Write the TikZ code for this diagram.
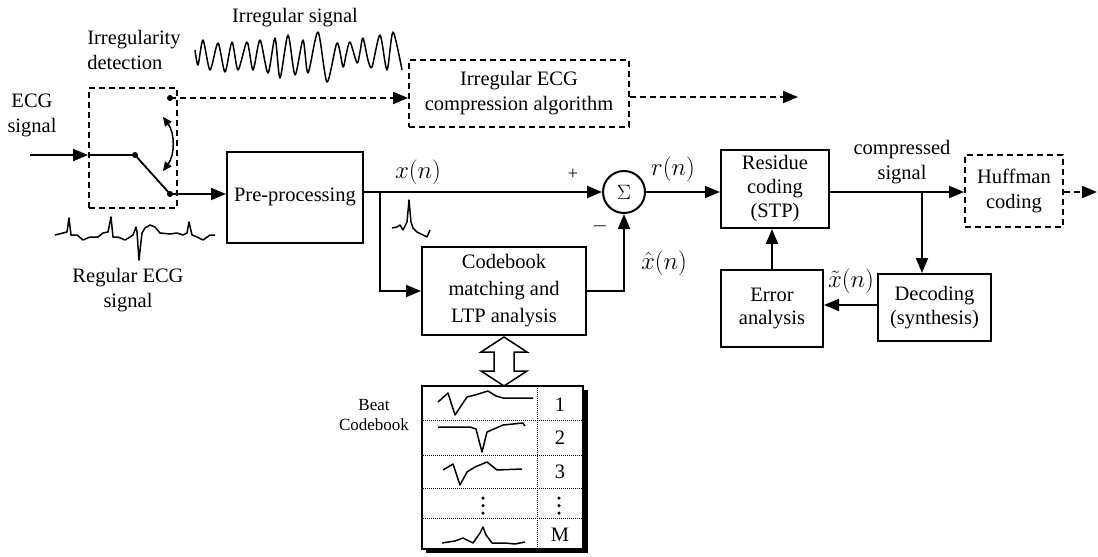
\documentclass[tikz,border=0pt]{standalone}
\usepackage{fontspec}
\setmainfont{Liberation Serif}
\usetikzlibrary{arrows.meta}
\begin{document}
\begin{tikzpicture}[x=1pt,y=-1pt,
  every node/.style={font=\fontsize{20.5}{25}\selectfont, inner sep=0pt},
  blk/.style={draw, line width=2pt, align=center},
  dblk/.style={draw, line width=1.8pt, dash pattern=on 6pt off 4pt, align=center},
  ln/.style={line width=1.8pt},
  arr/.style={ln, -{Triangle[length=15pt,width=12pt]}},
  darr/.style={arr, dash pattern=on 6pt off 4pt},
  wave/.style={line width=1.5pt, line join=round},
  lbl/.style={align=center},
  mlbl/.style={font=\fontsize{23}{25}\selectfont},
  swdot/.style={circle, fill, inner sep=0pt, minimum size=6pt},
  vdot/.style={circle, fill, inner sep=0pt, minimum size=3.5pt},
  rowl/.style={line width=1pt, densely dotted},
]
\useasboundingbox (0,0) rectangle (1098,557);

% ---------- blocks ----------
\node[dblk, minimum width=88pt, minimum height=120pt] (det) at (133,148) {};
\node[dblk, minimum width=220pt, minimum height=67pt] (irr) at (519,93.5) {Irregular ECG\\compression algorithm};
\node[blk, minimum width=136pt, minimum height=91pt] (pre) at (295,197) {Pre-processing};
\node[circle, draw, line width=2pt, minimum size=42pt] (sig) at (624,192) {$\Sigma$};
\node[blk, minimum width=164pt, minimum height=88pt, font=\fontsize{20.5}{27}\selectfont] (cb) at (504,291) {Codebook\\matching and\\LTP analysis};
\node[blk, minimum width=108pt, minimum height=78pt, font=\fontsize{20.5}{24}\selectfont] (res) at (775,189) {Residue\\coding\\(STP)};
\node[dblk, minimum width=98pt, minimum height=72pt] (huf) at (1014,191) {Huffman\\coding};
\node[blk, minimum width=113pt, minimum height=67pt, font=\fontsize{20.5}{24}\selectfont] (dec) at (934.5,307.5) {Decoding\\(synthesis)};
\node[blk, minimum width=102pt, minimum height=77pt, font=\fontsize{20.5}{23}\selectfont] (err) at (772,308.5) {Error\\analysis};

% ---------- labels ----------
\node (tIrr) at (295,18) {Irregular signal};
\node[align=left] (tDet) at (134,50) {Irregularity\\detection};
\node[lbl] (tECG) at (32,115) {ECG\\signal};
\node[lbl] (tReg) at (128,290) {Regular ECG\\signal};
\node[mlbl] (tx) at (418,172) {$x\bigl(n\bigr)$};
\node (tplus) at (573,174) {\fontsize{18}{18}\selectfont +};
\node (tminus) at (600,226) {$-$};
\node[mlbl] (txh) at (664,263) {$\hat{x}\bigl(n\bigr)$};
\node[mlbl] (tr) at (673,169) {$r\bigl(n\bigr)$};
\node[mlbl] (txt) at (851,281) {$\tilde{x}\bigl(n\bigr)$};
\node[lbl] (tcomp) at (902,162) {compressed\\signal};
\node[lbl, font=\fontsize{17}{20}\selectfont] (tbeat) at (374,415) {Beat\\Codebook};

% ---------- switch / irregular path ----------
\coordinate (in) at (30,155);
\coordinate (piv) at (135,155);
\coordinate (c2) at (170,194);
\coordinate (c1) at (170,98);
\draw[arr] (in) -- (det.west |- in);
\draw[ln] (det.west |- in) -- (piv) -- (c2);
\draw[arr] (c2) -- (pre.west |- c2);
\draw[darr] (c1) -- (irr.west |- c1);
\node[swdot] (dpiv) at (piv) {};
\node[swdot] (dc2) at (c2) {};
\node[swdot] (dc1) at (c1) {};
\draw[line width=1.5pt, {Triangle[length=9pt,width=8pt]}-{Triangle[length=9pt,width=8pt]}]
  (163,117) .. controls (175,133) and (175,155) .. (163,171);
\coordinate (irrout) at (798,97);
\draw[darr] (irr.east |- irrout) -- (irrout);

% ---------- main path ----------
\coordinate (br) at (380,192);
\draw[arr] (pre.east |- br) -- (sig.west);
\draw[arr] (br) |- (cb.west);
\draw[arr] (cb.east) -| (sig.south);
\draw[arr] (sig.east) -- (res.west |- sig.east);
\coordinate (j) at (922,192);
\draw[arr] (res.east |- j) -- (huf.west |- j);
\draw[arr] (j) -- (j |- dec.north);
\coordinate (hout) at (1097,192);
\draw[darr] (huf.east |- hout) -- (hout);
\draw[arr] (dec.west |- 0,305) -- (err.east |- 0,305);
\draw[arr] (err.north) -- (err.north |- res.south);

% ---------- waveforms ----------
\draw[wave] plot[smooth, tension=0.45] coordinates {(195,50) (198,65) (203,40) (210,70) (218,43) (225,72) (232,42) (238,70)
  (247,42) (253,70) (260,40) (268,73) (275,38) (280,78) (288,35) (295,75)
  (303,40) (308,73) (318,32) (327,82) (337,43) (343,67) (346,55) (350,42)
  (357,63) (360,52) (363,38) (368,60) (372,67) (380,35) (387,70) (393,32) (402,70)};

\draw[wave] (55,235) -- (63,233) -- (67,232) -- (69,218) -- (71,235) -- (77,235) -- (83,240) -- (90,237)
  -- (98,237) -- (103,233) -- (108,232) -- (111,217) -- (113,237) -- (118,237) -- (125,240) -- (130,237)
  -- (133,235) -- (136,227) -- (137,232) -- (139,260) -- (142,233) -- (145,228) -- (150,225) -- (155,227)
  -- (160,233) -- (170,234) -- (177,233) -- (183,235) -- (187,233) -- (189,222) -- (192,235) -- (197,237)
  -- (203,240) -- (210,235) -- (215,235);

\draw[wave] (392,228) -- (397,227) -- (400,225) -- (403,230) -- (407,222) -- (409,200) -- (411,222)
  -- (413,228) -- (417,232) -- (423,235) -- (427,237) -- (430,230);

% ---------- codebook table ----------
\draw[line width=1.5pt, fill=white] (504,337) -- (527,352) -- (514,352) -- (514,371) -- (527,371)
  -- (504,386) -- (481,371) -- (494,371) -- (494,352) -- (481,352) -- cycle;
\fill (426,390) rectangle (588,553);
\node[draw, fill=white, line width=1.5pt, minimum width=161pt, minimum height=163pt] (tab) at (502.5,467.5) {};
\draw[rowl] (tab.west |- 0,420) -- (tab.east |- 0,420);
\draw[rowl] (tab.west |- 0,455) -- (tab.east |- 0,455);
\draw[rowl] (tab.west |- 0,488) -- (tab.east |- 0,488);
\draw[rowl] (tab.west |- 0,518) -- (tab.east |- 0,518);
\draw[rowl] (537,386) -- (537,549);
\node (n1) at (560,405) {1};
\node (n2) at (560,438) {2};
\node (n3) at (560,472) {3};
\node (nM) at (560,535) {M};
\foreach \yy in {498,505.5,513} {
  \node[vdot] at (559,\yy) {};
  \node[vdot] at (483,\yy) {};
}
\draw[wave] (438,402) -- (448,393) -- (455,415) -- (467,397) -- (475,395) -- (488,391) -- (496,396) -- (503,398) -- (533,398);
\draw[wave] (438,427) -- (470,427) -- (476,429) -- (482,452) -- (487,432) -- (503,425) -- (523,423) -- (525,426);
\draw[wave] (443,470) -- (453,464) -- (460,485) -- (467,472) -- (475,467) -- (487,462) -- (497,470) -- (522,469);
\draw[wave] (442,543) -- (455,541) -- (463,538) -- (473,543) -- (480,533) -- (483,527) -- (486,535) -- (492,543) -- (505,543) -- (515,544) -- (525,542);

\end{tikzpicture}
\end{document}
